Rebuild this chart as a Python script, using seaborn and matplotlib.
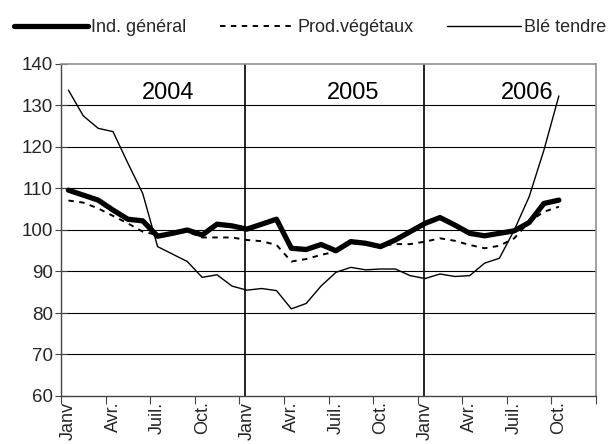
import numpy as np
import pandas as pd
import matplotlib
matplotlib.use("Agg")
import matplotlib.pyplot as plt
import seaborn as sns

# ---- data (Jan 2004 .. Oct 2006, monthly) ----
ind_general = [109.6, 108.4, 107.2, 104.8, 102.6, 102.2, 98.5, 99.2, 100.0, 98.8, 101.4, 101.0,
               100.2, 101.4, 102.6, 95.6, 95.3, 96.5, 95.0, 97.2, 96.8, 96.0, 97.6, 99.6,
               101.6, 103.0, 101.2, 99.2, 98.6, 99.2, 99.8, 101.8, 106.4, 107.2]
prod_vegetaux = [107.1, 106.6, 105.2, 103.4, 101.6, 99.6, 98.8, 99.2, 99.6, 98.2, 98.2, 98.2,
                 97.6, 97.3, 96.4, 92.4, 93.0, 94.0, 94.8, 96.8, 96.5, 96.2, 96.6, 96.6,
                 97.2, 98.0, 97.4, 96.4, 95.6, 96.2, 98.0, 102.0, 104.4, 105.6]
ble_tendre = [133.7, 127.5, 124.5, 123.7, 116.1, 108.8, 96.0, 94.2, 92.4, 88.6, 89.2, 86.5,
              85.5, 85.9, 85.4, 81.0, 82.3, 86.5, 89.8, 91.0, 90.4, 90.6, 90.6, 89.0,
              88.3, 89.4, 88.8, 89.0, 92.0, 93.2, 100.0, 108.0, 119.3, 132.3]
series_names = ["Ind. général", "Prod.végétaux", "Blé tendre"]
month_labels = ["Janv", "Avr.", "Juil.", "Oct."] * 3
year_labels = ["2004", "2005", "2006"]
n_categories = 36

df = pd.DataFrame({
    "idx": np.tile(np.arange(len(ind_general)), 3),
    "value": ind_general + prod_vegetaux + ble_tendre,
    "serie": np.repeat(series_names, len(ind_general)),
})

sns.set_style("white")
plt.rcParams["font.family"] = ["Liberation Sans", "DejaVu Sans"]

fig = plt.figure(figsize=(6.11, 4.44), dpi=100)
ax = fig.add_axes([61 / 611, 1 - 396 / 444, (596 - 61) / 611, (396 - 64) / 444])

styles = {
    "Ind. général": dict(lw=3.8, ls="-"),
    "Prod.végétaux": dict(lw=1.4, ls=(0, (2.8, 2.8))),
    "Blé tendre": dict(lw=1.0, ls="-"),
}
for name in series_names:
    sub = df[df["serie"] == name]
    sns.lineplot(data=sub, x="idx", y="value", ax=ax, color="black",
                 linewidth=styles[name]["lw"], linestyle=styles[name]["ls"],
                 label=name, legend=False, solid_capstyle="round")

ax.set_xlim(-0.5, n_categories - 0.5)
ax.set_ylim(60, 140)
ax.set_yticks(np.arange(60, 141, 10))
for yv in range(70, 140, 10):
    ax.axhline(yv, color="black", lw=0.8, zorder=0)

# x ticks at category boundaries, labels at category centres
ax.set_xticks(np.arange(-0.5, n_categories, 3))
ax.set_xticklabels([])
ax.set_xticks(np.arange(0, n_categories, 3), minor=True)
ax.set_xticklabels(month_labels, minor=True, rotation=90, fontsize=13)
ax.tick_params(axis="x", which="minor", length=0, pad=4)
ax.tick_params(axis="x", which="major", length=6, width=0.8, color="#444444", direction="out", bottom=True)
ax.tick_params(axis="y", length=8, width=0.8, color="#444444", direction="inout", left=True, labelsize=13.5, pad=2)
ax.set_xlabel("")
ax.set_ylabel("")

for s in ["left", "bottom"]:
    ax.spines[s].set_color("#444444")
    ax.spines[s].set_linewidth(1.0)
for s in ["top", "right"]:
    ax.spines[s].set_color("#909090")
    ax.spines[s].set_linewidth(1.2)

for xv in [11.9, 23.9]:
    ax.axvline(xv, color="black", lw=1.2, zorder=1)

for xv, lab in zip([6.7, 19.15, 30.9], year_labels):
    ax.text(xv, 133, lab, fontsize=17, ha="center", va="center", color="black")

handles, labels = ax.get_legend_handles_labels()
fig.legend(handles, labels, loc="center left", bbox_to_anchor=(14 / 611, 1 - 28 / 444),
           ncol=3, frameon=False, fontsize=13, handlelength=4.1,
           handletextpad=0.15, columnspacing=1.9, borderaxespad=0, borderpad=0)

fig.savefig("out.png", dpi=100, facecolor="white")
